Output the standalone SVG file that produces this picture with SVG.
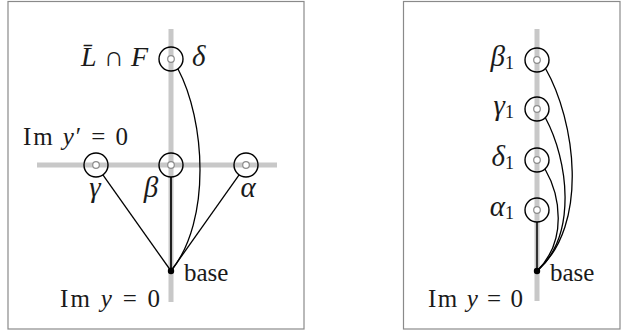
<svg xmlns="http://www.w3.org/2000/svg" width="621" height="333" viewBox="0 0 621 333" font-family="'Liberation Serif', 'DejaVu Serif', serif" font-size="25">
<style>
.frame{fill:#fff;stroke:#8a8a8a;stroke-width:1.2}
.axis{stroke:#c8c8c8;stroke-width:5;fill:none}
.ring{fill:none;stroke:#000;stroke-width:1.4}
.dot{fill:#fff;stroke:#8c8c8c;stroke-width:1.2}
.edge{fill:none;stroke:#000;stroke-width:1.3}
.bdot{fill:#000}
text{font-family:'Liberation Serif','DejaVu Serif',serif;font-size:25px;fill:#1a1a1a}
.gr{font-size:29px;font-style:italic}
.sub{font-size:18px}
</style>
<rect class="frame" x="8" y="1.5" width="296" height="327.5"/>
<rect class="frame" x="403.5" y="1.5" width="216.5" height="327.5"/>
<g id="axes">
<line class="axis" x1="171" y1="29" x2="171" y2="302"/>
<line class="axis" x1="37" y1="165" x2="277" y2="165"/>
<line class="axis" x1="537" y1="29" x2="537" y2="301"/>
</g>
<g id="connectors">
<line class="edge" x1="102.9" y1="174.8" x2="171" y2="271"/>
<line class="edge" x1="171" y1="177" x2="171" y2="271" style="stroke-width:1.7"/>
<line class="edge" x1="239.1" y1="174.8" x2="171" y2="271"/>
<path class="edge" d="M178,69 C205,120 212,220 171,271"/>
<path class="edge" d="M545.5,68.5 C575,120 590,225 537,271"/>
<path class="edge" d="M545.5,118 C568,160 578,235 537,271"/>
<path class="edge" d="M545,169 C560,195 568,240 537,271"/>
<line class="edge" x1="537" y1="222" x2="537" y2="271" style="stroke-width:1.5"/>
</g>
<g id="node-delta"><circle class="ring" cx="171" cy="59" r="12"/><circle class="dot" cx="171" cy="59" r="3.3"/>
<text x="148" y="66" text-anchor="end" style="font-size:28px"><tspan font-style="italic">L̄</tspan> ∩ <tspan font-style="italic">F</tspan></text>
<text x="192" y="66" class="gr">δ</text></g>
<g id="node-gamma"><circle class="ring" cx="96" cy="165" r="12"/><circle class="dot" cx="96" cy="165" r="3.3"/>
<text x="95" y="197" class="gr" text-anchor="middle">γ</text></g>
<g id="node-beta"><circle class="ring" cx="171" cy="165" r="12"/><circle class="dot" cx="171" cy="165" r="3.3"/>
<text x="151" y="197" class="gr" text-anchor="middle">β</text></g>
<g id="node-alpha"><circle class="ring" cx="246" cy="165" r="12"/><circle class="dot" cx="246" cy="165" r="3.3"/>
<text x="248" y="197" class="gr" text-anchor="middle">α</text></g>
<g id="label-imyprime"><text x="23" y="145" textLength="105" lengthAdjust="spacing">Im <tspan font-style="italic">y</tspan>′ = 0</text></g>
<g id="node-base-left"><circle class="bdot" cx="171" cy="271" r="3.2"/>
<text x="184" y="281">base</text>
<text x="60" y="307" textLength="100" lengthAdjust="spacing">Im <tspan font-style="italic">y</tspan> = 0</text></g>
<g id="node-beta1"><circle class="ring" cx="537" cy="60" r="12"/><circle class="dot" cx="537" cy="60" r="3.3"/>
<text x="514" y="66" text-anchor="end"><tspan class="gr">β</tspan><tspan class="sub" dy="3">1</tspan></text></g>
<g id="node-gamma1"><circle class="ring" cx="537" cy="109" r="12"/><circle class="dot" cx="537" cy="109" r="3.3"/>
<text x="514" y="115" text-anchor="end"><tspan class="gr">γ</tspan><tspan class="sub" dy="3">1</tspan></text></g>
<g id="node-delta1"><circle class="ring" cx="537" cy="160" r="12"/><circle class="dot" cx="537" cy="160" r="3.3"/>
<text x="514" y="166" text-anchor="end"><tspan class="gr">δ</tspan><tspan class="sub" dy="3">1</tspan></text></g>
<g id="node-alpha1"><circle class="ring" cx="537" cy="210" r="12"/><circle class="dot" cx="537" cy="210" r="3.3"/>
<text x="514" y="216" text-anchor="end"><tspan class="gr">α</tspan><tspan class="sub" dy="3">1</tspan></text></g>
<g id="node-base-right"><circle class="bdot" cx="537" cy="271" r="3.2"/>
<text x="550" y="281">base</text>
<text x="428" y="307" textLength="95" lengthAdjust="spacing">Im <tspan font-style="italic">y</tspan> = 0</text></g>
</svg>
